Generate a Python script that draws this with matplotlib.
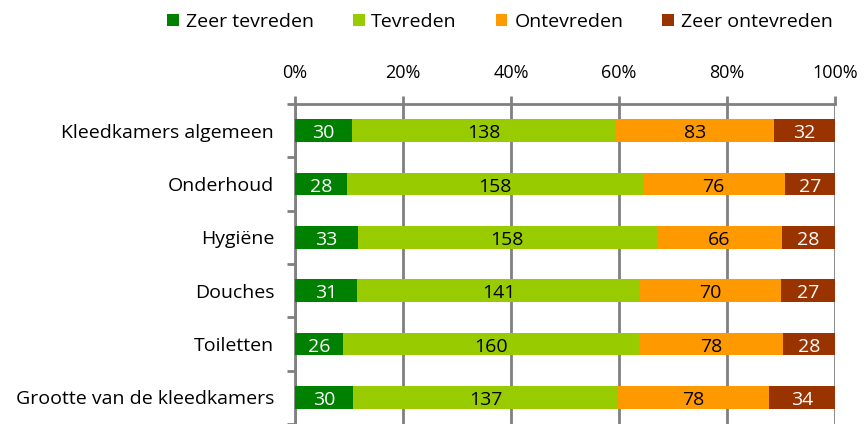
import matplotlib.pyplot as plt
import numpy as np
from matplotlib.ticker import PercentFormatter

plt.rcParams["font.family"] = ["Open Sans", "DejaVu Sans"]

categories = ["Kleedkamers algemeen", "Onderhoud", "Hygiëne", "Douches",
              "Toiletten", "Grootte van de kleedkamers"]
series = ["Zeer tevreden", "Tevreden", "Ontevreden", "Zeer ontevreden"]
zeer_tevreden = [30, 28, 33, 31, 26, 30]
tevreden = [138, 158, 158, 141, 160, 137]
ontevreden = [83, 76, 66, 70, 78, 78]
zeer_ontevreden = [32, 27, 28, 27, 28, 34]

colors = ["#008000", "#99CC00", "#FF9900", "#993300"]
text_colors = ["white", "black", "black", "white"]

counts = np.array([zeer_tevreden, tevreden, ontevreden, zeer_ontevreden], dtype=float)
shares = counts / counts.sum(axis=0) * 100
y = np.arange(len(categories))

fig = plt.figure(figsize=(8.65, 4.24), dpi=100)
ax = fig.add_axes([295 / 865, 0, 540 / 865, 320 / 424])

left = np.zeros(len(categories))
for i, name in enumerate(series):
    bars = ax.barh(y, shares[i], left=left, height=0.42, color=colors[i],
                   label=name, zorder=3)
    for k, b in enumerate(bars):
        ax.text(left[k] + shares[i][k] / 2, y[k] + 0.05, f"{int(counts[i][k])}",
                ha="center", va="center", fontsize=14, color=text_colors[i],
                zorder=4)
    left += shares[i]

ax.set_xlim(0, 100)
ax.set_ylim(5.43, -0.5)
ax.xaxis.tick_top()
ax.set_xticks(np.arange(0, 101, 20))
ax.xaxis.set_major_formatter(PercentFormatter(decimals=0))
ax.tick_params(axis="x", length=6, width=2, color="#808080", labelsize=13, pad=10)
ax.grid(axis="x", color="#808080", linewidth=2, zorder=0)

ax.set_yticks(y)
ax.set_yticklabels(categories, fontsize=14)
ax.set_yticks(np.arange(-0.5, 5.6, 1), minor=True)
ax.tick_params(axis="y", which="major", length=0, pad=15)
ax.tick_params(axis="y", which="minor", length=6, width=2, color="#808080")

for side in ["right", "bottom"]:
    ax.spines[side].set_visible(False)
for side in ["top", "left"]:
    ax.spines[side].set_color("#808080")
    ax.spines[side].set_linewidth(2)

fig.legend(loc="center", bbox_to_anchor=(500 / 865, 1 - 22 / 424), ncol=4,
           frameon=False, fontsize=14, handlelength=0.6, handleheight=0.6,
           handletextpad=0.35, columnspacing=2.0, borderaxespad=0)

fig.savefig("out.png", dpi=100)
